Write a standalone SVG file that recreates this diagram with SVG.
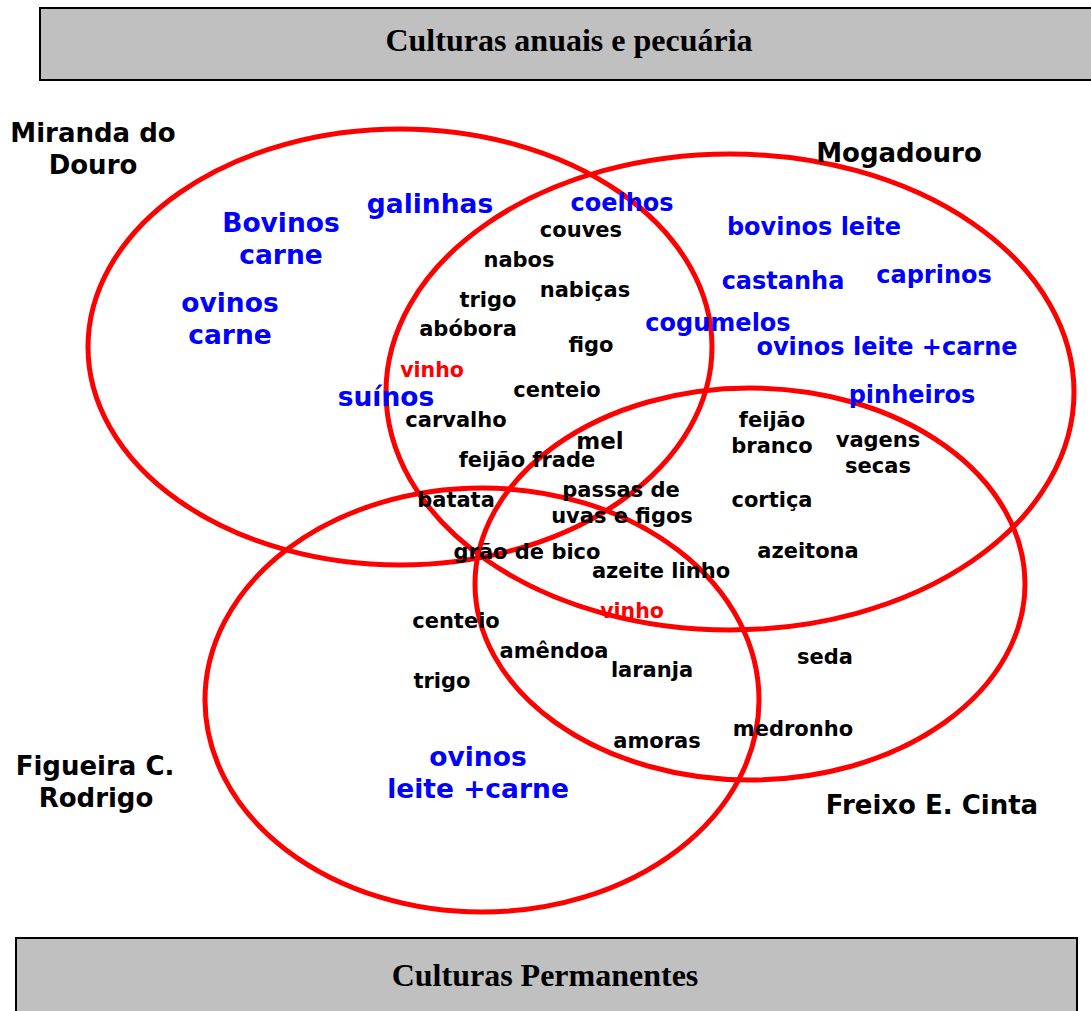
<svg xmlns="http://www.w3.org/2000/svg" width="1091" height="1011" viewBox="0 0 1091 1011">
<style>
.box{fill:#c0c0c0;stroke:#000;stroke-width:2}
.title{font-family:"Liberation Serif",serif;font-weight:bold;font-size:32px;text-anchor:middle;fill:#000}
.set{fill:none;stroke:#ff0000;stroke-width:5}
.lbl{font-family:"DejaVu Sans",Verdana,sans-serif;font-weight:bold;font-size:26px;text-anchor:middle;fill:#000}
.b{font-family:"DejaVu Sans",Verdana,sans-serif;font-weight:bold;font-size:26.5px;text-anchor:middle;fill:#0000ff}
.b2{font-family:"DejaVu Sans",Verdana,sans-serif;font-weight:bold;font-size:24px;text-anchor:middle;fill:#0000ff}
.k{font-family:"DejaVu Sans",Verdana,sans-serif;font-weight:bold;font-size:21px;text-anchor:middle;fill:#000}
.r{font-family:"DejaVu Sans",Verdana,sans-serif;font-weight:bold;font-size:20.5px;text-anchor:middle;fill:#ff0000}
</style>
<rect width="1091" height="1011" fill="#fff"/>
<g id="top-box"><rect class="box" x="40" y="8" width="1060" height="72"/><text class="title" x="569" y="51">Culturas anuais e pecuária</text></g>
<g id="bottom-box"><rect class="box" x="16" y="938" width="1061" height="80"/><text class="title" x="545" y="986">Culturas Permanentes</text></g>
<g id="sets">
<ellipse id="miranda" class="set" cx="400" cy="347" rx="312" ry="218"/>
<ellipse id="mogadouro" class="set" cx="730" cy="392" rx="344" ry="238"/>
<ellipse id="freixo" class="set" cx="750" cy="584" rx="275" ry="196"/>
<ellipse id="figueira" class="set" cx="482" cy="700" rx="277" ry="212"/>
</g>
<g id="region-labels">
<text class="lbl" x="93" y="142">Miranda do</text>
<text class="lbl" x="93" y="174">Douro</text>
<text class="lbl" x="899" y="162">Mogadouro</text>
<text class="lbl" x="95" y="775">Figueira C.</text>
<text class="lbl" x="96" y="807">Rodrigo</text>
<text class="lbl" x="932" y="814">Freixo E. Cinta</text>
</g>
<g id="items">
<text class="b" x="281" y="232">Bovinos</text>
<text class="b" x="281" y="264">carne</text>
<text class="b" x="430" y="213">galinhas</text>
<text class="b" x="230" y="312">ovinos</text>
<text class="b" x="230" y="344">carne</text>
<text class="b" x="386" y="406">suínos</text>
<text class="b2" x="622" y="211">coelhos</text>
<text class="b2" x="814" y="235">bovinos leite</text>
<text class="b2" x="783" y="289">castanha</text>
<text class="b2" x="934" y="283">caprinos</text>
<text class="b2" x="718" y="331">cogumelos</text>
<text class="b2" x="887" y="355">ovinos leite +carne</text>
<text class="b2" x="912" y="403">pinheiros</text>
<text class="b" x="478" y="766">ovinos</text>
<text class="b" x="478" y="798">leite +carne</text>
<text class="r" x="432" y="377">vinho</text>
<text class="r" x="632" y="618">vinho</text>
<text class="k" x="581" y="237">couves</text>
<text class="k" x="519" y="267">nabos</text>
<text class="k" x="585" y="297">nabiças</text>
<text class="k" x="488" y="307">trigo</text>
<text class="k" x="468" y="336">abóbora</text>
<text class="k" x="591" y="352">figo</text>
<text class="k" x="557" y="397">centeio</text>
<text class="k" x="456" y="427">carvalho</text>
<text class="k" x="600" y="449" style="font-size:23px">mel</text>
<text class="k" x="527" y="467">feijão frade</text>
<text class="k" x="456" y="507">batata</text>
<text class="k" x="621" y="497">passas de</text>
<text class="k" x="622" y="523">uvas e figos</text>
<text class="k" x="527" y="559">grão de bico</text>
<text class="k" x="661" y="578">azeite linho</text>
<text class="k" x="772" y="427">feijão</text>
<text class="k" x="772" y="453">branco</text>
<text class="k" x="878" y="447">vagens</text>
<text class="k" x="878" y="473">secas</text>
<text class="k" x="772" y="507">cortiça</text>
<text class="k" x="808" y="558">azeitona</text>
<text class="k" x="456" y="628">centeio</text>
<text class="k" x="554" y="658">amêndoa</text>
<text class="k" x="652" y="677">laranja</text>
<text class="k" x="442" y="688">trigo</text>
<text class="k" x="825" y="664">seda</text>
<text class="k" x="793" y="736">medronho</text>
<text class="k" x="657" y="748">amoras</text>
</g>
</svg>
